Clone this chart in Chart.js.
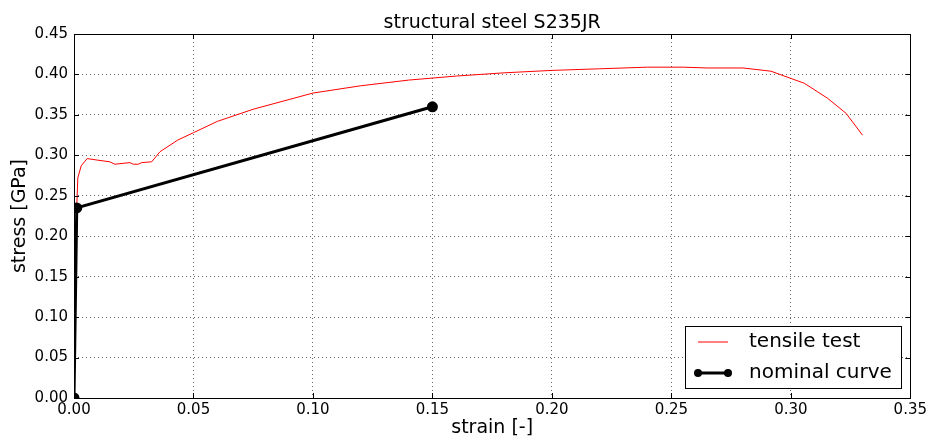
<!DOCTYPE html>
<html>
<head>
<meta charset="utf-8">
<script src="https://cdn.jsdelivr.net/npm/chart.js@4.4.1/dist/chart.umd.min.js"></script>
<style>
  html, body { margin: 0; padding: 0; background: #fff; }
  #wrap { width: 930px; height: 439px; position: relative; }
</style>
</head>
<body>
<div id="wrap"><canvas id="c"></canvas></div>
<script>
// Tensile test of S235JR vs the bilinear nominal curve (strain [-], stress [GPa]).
const chartTitle = 'structural steel S235JR';
const xTitle = 'strain [-]';
const yTitle = 'stress [GPa]';
const legendLabels = ['tensile test', 'nominal curve'];

const testStrain = [0, 0.0012, 0.0016, 0.003, 0.0055, 0.0100, 0.0150, 0.0171, 0.0234, 0.0248,
  0.0269, 0.0283, 0.0325, 0.0360, 0.0435, 0.0500, 0.0600, 0.0750, 0.0900, 0.1000,
  0.1200, 0.1400, 0.1600, 0.1800, 0.2000, 0.2200, 0.2400, 0.2550, 0.2650, 0.2800,
  0.2917, 0.3001, 0.3057, 0.3154, 0.3231, 0.3300];
const testStress = [0, 0.240, 0.272, 0.287, 0.296, 0.294, 0.292, 0.289, 0.291, 0.289,
  0.289, 0.291, 0.292, 0.3045, 0.319, 0.328, 0.342, 0.357, 0.369, 0.377,
  0.386, 0.393, 0.398, 0.402, 0.405, 0.407, 0.409, 0.409, 0.408, 0.408,
  0.404, 0.395, 0.389, 0.3705, 0.352, 0.325];

const nominalStrain = [0, 0.00115, 0.15];
const nominalStress = [0, 0.235, 0.36];

const xMin = 0, xMax = 0.35, yMin = 0, yMax = 0.45, tickStep = 0.05;

const toPoints = (xs, ys) => xs.map((x, i) => ({ x, y: ys[i] }));
const FONT = 'DejaVu Sans';

// matplotlib-like frame, inward ticks, title and in-plot legend
const decorations = {
  id: 'decorations',
  afterDraw(chart) {
    const { ctx, chartArea: a, scales } = chart;
    ctx.save();
    ctx.strokeStyle = '#000';
    ctx.lineWidth = 1;
    ctx.beginPath();
    scales.x.ticks.forEach((t) => {
      const px = Math.round(scales.x.getPixelForValue(t.value)) + 0.5;
      ctx.moveTo(px, a.bottom); ctx.lineTo(px, a.bottom - 5);
      ctx.moveTo(px, a.top); ctx.lineTo(px, a.top + 5);
    });
    scales.y.ticks.forEach((t) => {
      const py = Math.round(scales.y.getPixelForValue(t.value)) + 0.5;
      ctx.moveTo(a.left, py); ctx.lineTo(a.left + 5, py);
      ctx.moveTo(a.right, py); ctx.lineTo(a.right - 5, py);
    });
    ctx.stroke();
    ctx.strokeRect(Math.round(a.left) + 0.5, Math.round(a.top) + 0.5,
      Math.round(a.right - a.left), Math.round(a.bottom - a.top));

    ctx.fillStyle = '#000';
    ctx.font = `19px "${FONT}"`;
    ctx.textAlign = 'center';
    ctx.textBaseline = 'alphabetic';
    ctx.fillText(chartTitle, (a.left + a.right) / 2, a.top - 6);

    // legend box, lower right
    const bx = 685, by = 326, bw = 216, bh = 62;
    ctx.fillStyle = '#fff';
    ctx.fillRect(bx, by, bw, bh);
    ctx.strokeRect(bx + 0.5, by + 0.5, bw, bh);
    const ds = chart.data.datasets;
    const rows = [by + 16, by + 47];
    rows.forEach((ry, i) => {
      const d = ds[i];
      ctx.strokeStyle = d.borderColor;
      ctx.lineWidth = d.borderWidth;
      ctx.beginPath();
      ctx.moveTo(bx + 13, ry); ctx.lineTo(bx + 43, ry);
      ctx.stroke();
      if (d.pointRadius > 0) {
        ctx.fillStyle = d.pointBackgroundColor;
        [bx + 13, bx + 43].forEach((mx) => {
          ctx.beginPath(); ctx.arc(mx, ry, d.pointRadius, 0, Math.PI * 2); ctx.fill();
        });
      }
      ctx.fillStyle = '#000';
      ctx.font = `20px "${FONT}"`;
      ctx.textAlign = 'left';
      ctx.textBaseline = 'middle';
      ctx.fillText(legendLabels[i], bx + 64, ry);
    });
    ctx.restore();
  },
};

new Chart(document.getElementById('c'), {
  type: 'scatter',
  data: {
    datasets: [
      {
        label: legendLabels[0],
        data: toPoints(testStrain, testStress),
        showLine: true,
        borderColor: '#ff0000',
        backgroundColor: '#ff0000',
        borderWidth: 1,
        pointRadius: 0,
        tension: 0,
        order: 1,
      },
      {
        label: legendLabels[1],
        data: toPoints(nominalStrain, nominalStress),
        showLine: true,
        borderColor: '#000000',
        backgroundColor: '#000000',
        pointBackgroundColor: '#000000',
        pointBorderColor: '#000000',
        borderWidth: 3,
        pointRadius: 4,
        tension: 0,
        order: 0,
      },
    ],
  },
  options: {
    responsive: true,
    maintainAspectRatio: false,
    animation: false,
    layout: { padding: { top: 34, right: 19, left: 0, bottom: 0 } },
    plugins: { legend: { display: false }, tooltip: { enabled: false } },
    scales: {
      x: {
        type: 'linear',
        min: xMin, max: xMax,
        afterFit: (s) => { s.height = 41; },
        ticks: {
          stepSize: tickStep, padding: 3, color: '#000',
          font: { family: FONT, size: 15 },
          callback: (v) => v.toFixed(2),
        },
        grid: { color: '#666', drawTicks: false },
        border: { display: false, dash: [1, 3] },
        title: { display: true, text: xTitle, color: '#000', font: { family: FONT, size: 19 }, padding: { top: 0, bottom: 0 } },
      },
      y: {
        type: 'linear',
        min: yMin, max: yMax,
        afterFit: (s) => { s.width = 74; },
        ticks: {
          stepSize: tickStep, padding: 6, color: '#000',
          font: { family: FONT, size: 15 },
          callback: (v) => v.toFixed(2),
        },
        grid: { color: '#666', drawTicks: false },
        border: { display: false, dash: [1, 3] },
        title: { display: true, text: yTitle, color: '#000', font: { family: FONT, size: 19 }, padding: { top: 9, bottom: 0 } },
      },
    },
  },
  plugins: [decorations],
});
</script>
</body>
</html>
